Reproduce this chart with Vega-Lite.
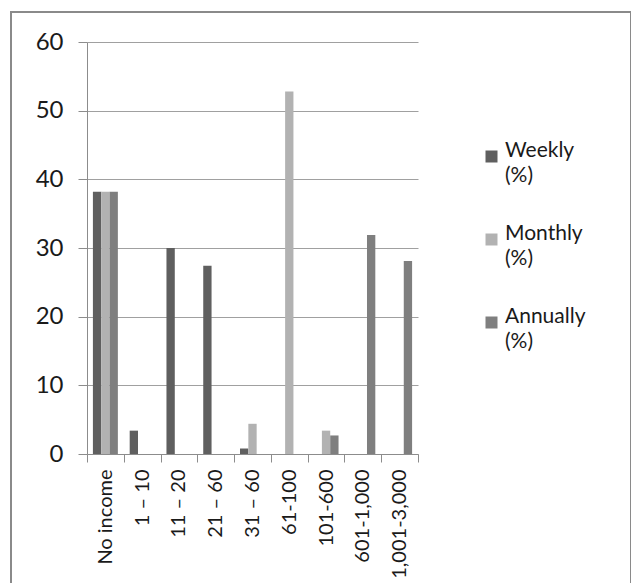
{
  "$schema": "https://vega.github.io/schema/vega-lite/v6.json",
  "width": 620,
  "height": 580,
  "autosize": {"type": "none"},
  "padding": {"left": 11, "top": 12, "right": 0, "bottom": 0},
  "background": "white",
  "config": {
    "view": {"stroke": "#8a8a8a", "strokeWidth": 2},
    "font": "Lato",
    "style": {"guide-label": {"lineHeight": 25}}
  },
  "data": {
    "values": [
      {"income": "No income", "series": "Weekly (%)", "value": 38.2},
      {"income": "No income", "series": "Monthly (%)", "value": 38.2},
      {"income": "No income", "series": "Annually (%)", "value": 38.2},
      {"income": "1 – 10", "series": "Weekly (%)", "value": 3.4},
      {"income": "11 – 20", "series": "Weekly (%)", "value": 30.0},
      {"income": "21 – 60", "series": "Weekly (%)", "value": 27.4},
      {"income": "31 – 60", "series": "Weekly (%)", "value": 0.8},
      {"income": "31 – 60", "series": "Monthly (%)", "value": 4.4},
      {"income": "61-100", "series": "Monthly (%)", "value": 52.8},
      {"income": "101-600", "series": "Monthly (%)", "value": 3.4},
      {"income": "101-600", "series": "Annually (%)", "value": 2.7},
      {"income": "601-1,000", "series": "Annually (%)", "value": 31.9},
      {"income": "1,001-3,000", "series": "Annually (%)", "value": 28.1}
    ]
  },
  "mark": {"type": "bar"},
  "encoding": {
    "x": {
      "field": "income",
      "type": "nominal",
      "sort": ["No income", "1 – 10", "11 – 20", "21 – 60", "31 – 60", "61-100", "101-600", "601-1,000", "1,001-3,000"],
      "scale": {
        "domain": ["No income", "1 – 10", "11 – 20", "21 – 60", "31 – 60", "61-100", "101-600", "601-1,000", "1,001-3,000"],
        "range": [76, 407],
        "paddingInner": 0,
        "paddingOuter": 0
      },
      "axis": {
        "title": null,
        "offset": -138,
        "labelAngle": -90,
        "labelAlign": "right",
        "labelBaseline": "middle",
        "labelFont": "Lato",
        "labelFontSize": 20,
        "labelColor": "#1a1a1a",
        "labelPadding": 7,
        "labelLimit": 200,
        "tickBand": "extent",
        "tickSize": 8,
        "tickColor": "#8c8c8c",
        "domainColor": "#8c8c8c",
        "grid": false
      }
    },
    "xOffset": {
      "field": "series",
      "type": "nominal",
      "scale": {
        "domain": ["Weekly (%)", "Monthly (%)", "Annually (%)"],
        "paddingInner": 0,
        "paddingOuter": 0.71
      }
    },
    "y": {
      "field": "value",
      "type": "quantitative",
      "scale": {"domain": [0, 60], "range": [442, 30], "nice": false, "zero": true},
      "axis": {
        "title": null,
        "offset": -76,
        "values": [0, 10, 20, 30, 40, 50, 60],
        "labelFont": "Lato",
        "labelFontSize": 24,
        "labelColor": "#1a1a1a",
        "labelPadding": 15,
        "tickSize": 9,
        "tickColor": "#8c8c8c",
        "domainColor": "#8c8c8c",
        "grid": true,
        "gridColor": "#a0a0a0",
        "gridWidth": 1
      }
    },
    "color": {
      "field": "series",
      "type": "nominal",
      "scale": {
        "domain": ["Weekly (%)", "Monthly (%)", "Annually (%)"],
        "range": ["#5f5f5f", "#b2b2b2", "#7f7f7f"]
      },
      "legend": {
        "title": null,
        "orient": "none",
        "legendX": 470,
        "legendY": 134,
        "symbolType": "square",
        "symbolSize": 144,
        "symbolStrokeWidth": 0,
        "labelFont": "Lato",
        "labelFontSize": 21,
        "labelColor": "#1a1a1a",
        "labelOffset": 3,
        "labelBaseline": "alphabetic",
        "labelExpr": "split(datum.label, ' ')",
        "rowPadding": 36,
        "labelLimit": 200
      }
    }
  }
}
